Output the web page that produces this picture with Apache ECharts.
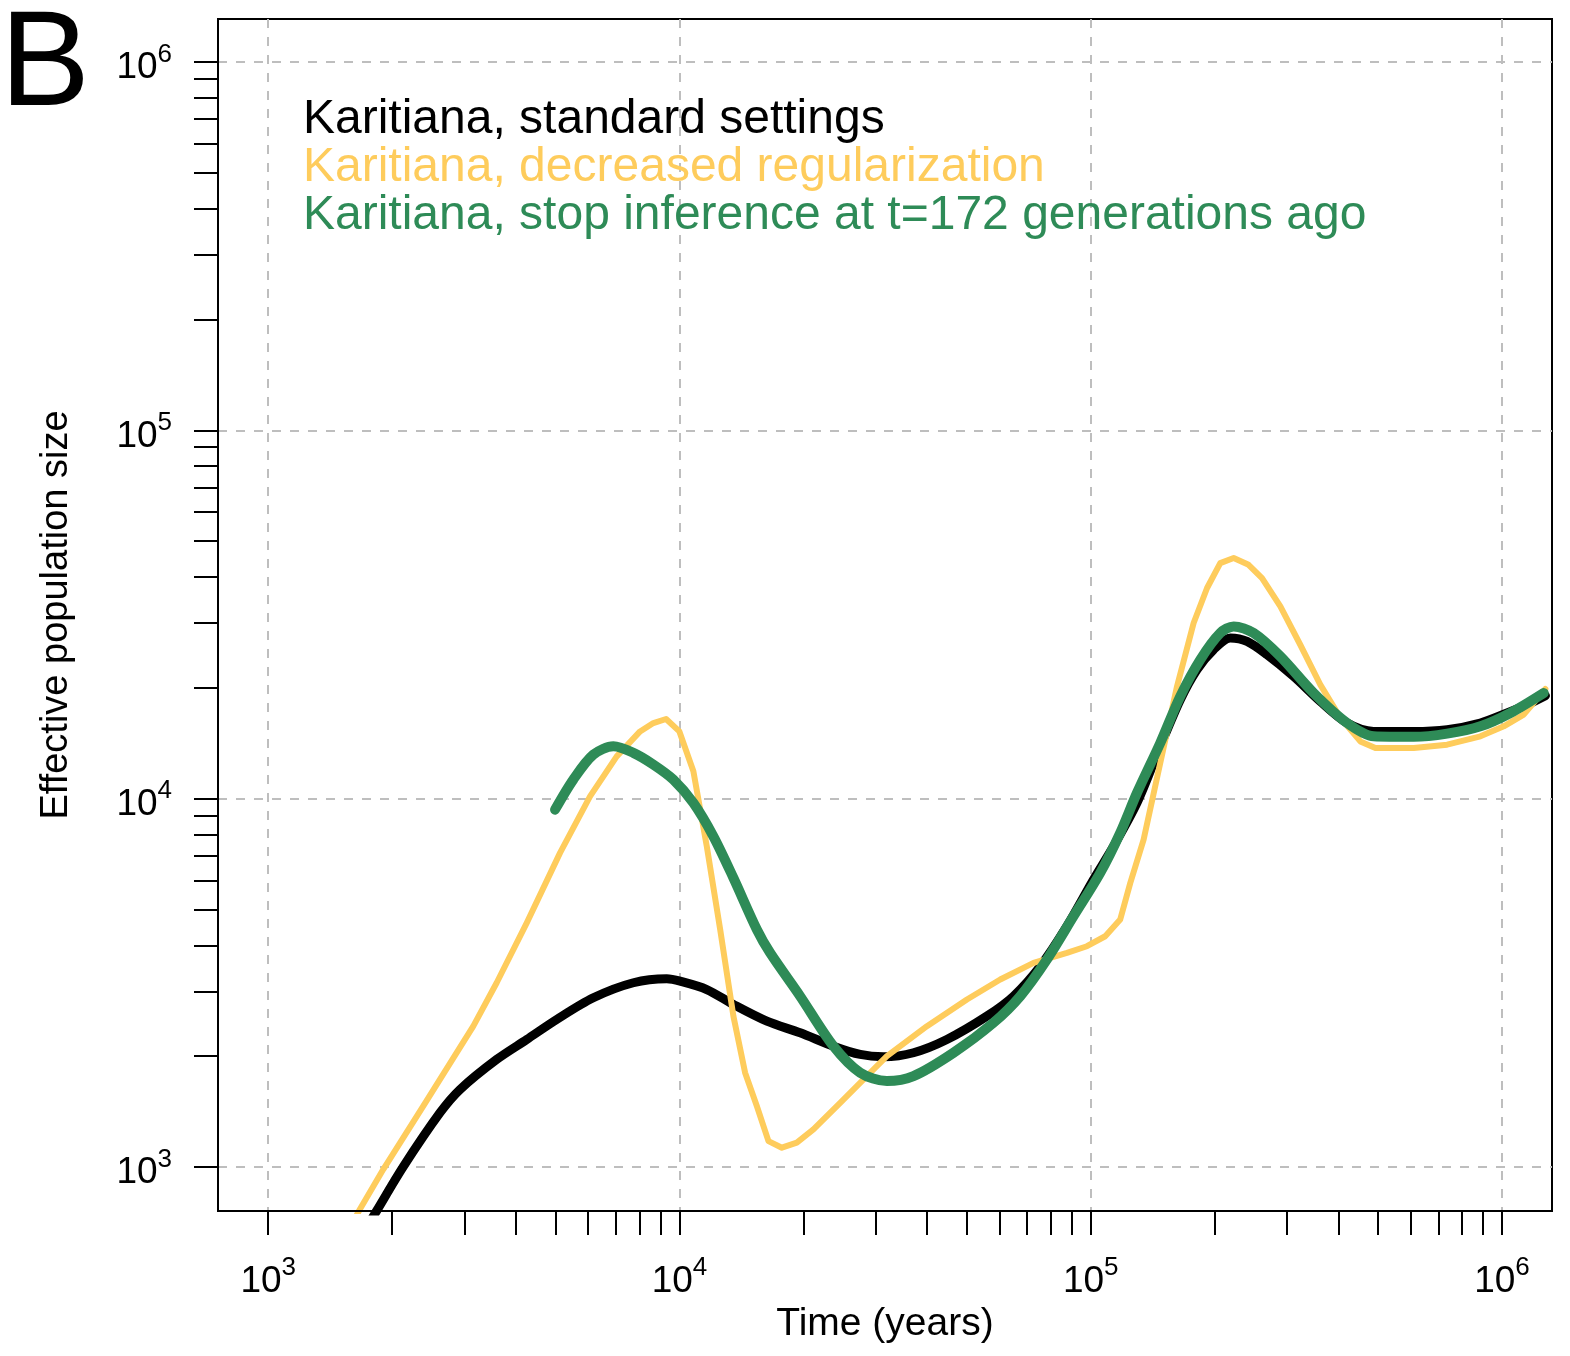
<!DOCTYPE html>
<html>
<head>
<meta charset="utf-8">
<title>Karitiana effective population size</title>
<script src="https://cdn.jsdelivr.net/npm/echarts@6/dist/echarts.min.js"></script>
<style>
  html, body { margin: 0; padding: 0; background: #fff; }
  #chart { width: 1570px; height: 1356px; }
</style>
</head>
<body>
<div id="chart"></div>
<script>
  // values (time in years, Ne)
  const legendNames = [
    'Karitiana, standard settings',
    'Karitiana, decreased regularization',
    'Karitiana, stop inference at t=172 generations ago'
  ];

  const blackTime = [1719, 1838, 2127, 2617, 2928, 3594, 4253, 5029, 6173, 7725, 9314, 10035, 11652, 13525, 16311, 19654, 23686, 27507, 31333, 37068, 44688, 55914, 64907, 75387, 87522, 101578, 113620, 129550, 147600, 165100, 181250, 198900, 218400, 239900, 268300, 311400, 361500, 420100, 487500, 610000, 735500, 886000, 1029000, 1151000, 1275000];
  const blackNe = [673, 763, 1000, 1405, 1625, 1960, 2220, 2516, 2881, 3165, 3244, 3196, 3034, 2763, 2489, 2315, 2129, 2022, 1993, 2044, 2220, 2569, 2910, 3510, 4507, 6033, 7428, 9741, 13875, 18570, 22400, 25380, 27310, 26730, 24600, 21480, 18380, 16050, 15230, 15230, 15400, 16050, 17090, 18000, 19040];

  const yellowTime = [1580, 1671, 1905, 2382, 3153, 3594, 4253, 5124, 6061, 7038, 8021, 8640, 9277, 9995, 10810, 11652, 12560, 13525, 14440, 15420, 16460, 17740, 19290, 21170, 24590, 28550, 31940, 39970, 50000, 60250, 72600, 87522, 97900, 108450, 117950, 124800, 134450, 147600, 162100, 177900, 191800, 206500, 222600, 242000, 260900, 289100, 323200, 361500, 404600, 452400, 492200, 610000, 735500, 886000, 1010000, 1129000, 1275000];
  const yellowNe = [686, 768, 986, 1464, 2413, 3165, 4603, 7129, 10150, 13030, 15230, 16050, 16460, 15230, 11870, 7428, 4416, 2569, 1804, 1464, 1176, 1129, 1165, 1266, 1495, 1766, 2000, 2413, 2851, 3230, 3585, 3816, 3977, 4233, 4699, 5908, 7745, 12510, 20180, 29990, 37320, 43620, 45010, 43160, 39720, 33270, 26180, 20400, 16570, 14310, 13730, 13730, 14020, 14770, 15720, 16910, 19860];

  const greenTime = [4983, 5519, 6173, 6907, 7725, 8640, 9665, 10810, 12090, 13525, 15420, 16610, 19654, 23686, 27507, 31940, 37068, 46380, 58010, 67390, 78240, 90820, 105460, 117950, 129550, 147600, 165100, 184700, 206500, 222600, 248900, 289100, 348300, 420100, 487500, 610000, 735500, 886000, 1048000, 1263000];
  const greenNe = [9341, 11270, 13170, 13875, 13320, 12380, 11270, 9741, 7907, 6097, 4416, 3816, 2910, 2129, 1804, 1712, 1766, 2044, 2465, 2910, 3660, 4797, 6291, 8076, 10370, 14170, 18960, 23850, 28170, 29360, 28170, 24340, 19360, 16050, 14770, 14720, 15020, 15720, 17090, 19360];

  const majorTicks = [1000, 10000, 100000, 1000000];
  const tickExponents = ['3', '4', '5', '6'];
  const minorTicks = [2000, 3000, 4000, 5000, 6000, 7000, 8000, 9000,
    20000, 30000, 40000, 50000, 60000, 70000, 80000, 90000,
    200000, 300000, 400000, 500000, 600000, 700000, 800000, 900000];

  const timeMin = 755, timeMax = 1323000;
  const neMin = 760, neMax = 1308000;

  const FONT = '"Liberation Sans", Arial, Helvetica, sans-serif';

  function pairs(xs, ys) {
    return xs.map(function (x, i) { return [x, ys[i]]; });
  }

  function powerLabel(value) {
    let idx = 0;
    majorTicks.forEach(function (m, i) {
      if (Math.abs(Math.log10(value / m)) < 0.01) idx = i;
    });
    return '{base|10}{sup|' + tickExponents[idx] + '}';
  }

  const tickRich = {
    base: { fontSize: 37, lineHeight: 53, fontFamily: FONT, color: '#000' },
    sup: { fontSize: 26, verticalAlign: 'top', fontFamily: FONT, color: '#000' }
  };

  const gridLine = { show: true, lineStyle: { color: '#bebebe', width: 2, type: [9, 9] } };
  const blackTick = { color: '#000', width: 2 };

  let chart = echarts.init(document.getElementById('chart'));

  let option = {
    animation: false,
    title: {
      text: 'B', left: 0, top: 0, padding: 0,
      textStyle: { fontSize: 135, fontWeight: 'normal', fontFamily: FONT, color: '#000' }
    },
    legend: {
      left: 298, top: 96, orient: 'vertical', padding: 0, itemGap: 0,
      itemWidth: 0, itemHeight: 1, icon: 'none', selectedMode: false,
      textStyle: { fontSize: 48, lineHeight: 45, fontFamily: FONT },
      data: [
        { name: legendNames[0], textStyle: { color: '#000000' } },
        { name: legendNames[1], textStyle: { color: '#fecc5c' } },
        { name: legendNames[2], textStyle: { color: '#2e8b57' } }
      ]
    },
    grid: {
      left: 218, top: 19, width: 1334, height: 1192,
      show: true, borderColor: '#000', borderWidth: 2, backgroundColor: 'transparent',
      containLabel: false, outerBoundsMode: 'none'
    },
    xAxis: [
      {
        type: 'log', min: timeMin, max: timeMax, position: 'bottom', z: 5,
        name: 'Time (years)', nameLocation: 'middle', nameGap: 90,
        nameTextStyle: { fontSize: 39, color: '#000', fontFamily: FONT },
        axisLine: { show: true, lineStyle: blackTick },
        axisTick: { show: true, length: 24, customValues: majorTicks.concat(minorTicks), lineStyle: blackTick },
        axisLabel: { show: true, customValues: majorTicks, margin: 44, formatter: powerLabel, rich: tickRich },
        splitLine: { show: false },
        minorTick: { show: false }
      },
      {
        type: 'log', min: timeMin, max: timeMax, z: 0,
        axisLine: { show: false },
        axisTick: { show: false, customValues: majorTicks },
        axisLabel: { show: false },
        splitLine: gridLine
      }
    ],
    yAxis: [
      {
        type: 'log', min: neMin, max: neMax, position: 'left', z: 5,
        name: 'Effective population size', nameLocation: 'middle', nameGap: 142,
        nameTextStyle: { fontSize: 38, color: '#000', fontFamily: FONT },
        axisLine: { show: true, lineStyle: blackTick },
        axisTick: { show: true, length: 24, customValues: majorTicks.concat(minorTicks), lineStyle: blackTick },
        axisLabel: { show: true, customValues: majorTicks, margin: 46, padding: [12, 0, 0, 0], formatter: powerLabel, rich: tickRich },
        splitLine: { show: false },
        minorTick: { show: false }
      },
      {
        type: 'log', min: neMin, max: neMax, z: 0,
        axisLine: { show: false },
        axisTick: { show: false, customValues: majorTicks },
        axisLabel: { show: false },
        splitLine: gridLine
      }
    ],
    series: [
      {
        name: legendNames[0], type: 'line', data: pairs(blackTime, blackNe),
        symbol: 'none', showSymbol: false, smooth: 0.3, silent: true,
        itemStyle: { color: '#000000' },
        lineStyle: { color: '#000000', width: 9, cap: 'round', join: 'round' }
      },
      {
        name: legendNames[1], type: 'line', data: pairs(yellowTime, yellowNe),
        symbol: 'none', showSymbol: false, smooth: false, silent: true,
        itemStyle: { color: '#fecc5c' },
        lineStyle: { color: '#fecc5c', width: 6, cap: 'round', join: 'round' }
      },
      {
        name: legendNames[2], type: 'line', data: pairs(greenTime, greenNe),
        symbol: 'none', showSymbol: false, smooth: 0.3, silent: true,
        itemStyle: { color: '#2e8b57' },
        lineStyle: { color: '#2e8b57', width: 10, cap: 'round', join: 'round' }
      }
    ]
  };

  chart.setOption(option);
</script>
</body>
</html>
